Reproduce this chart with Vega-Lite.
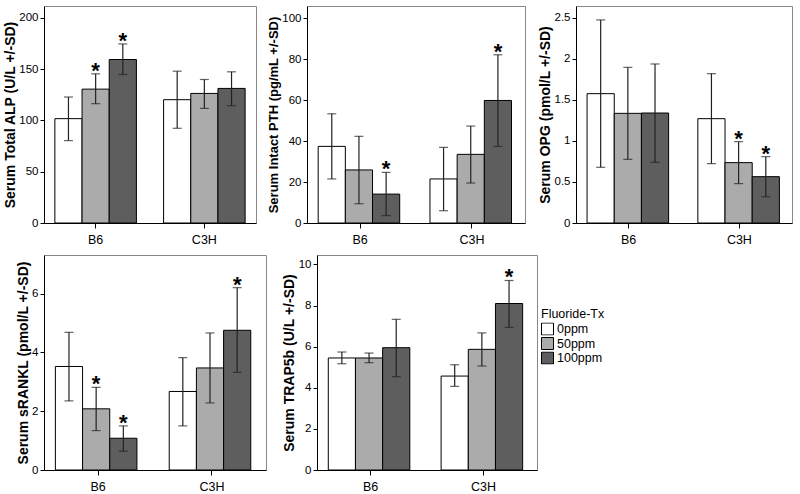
{
  "$schema": "https://vega.github.io/schema/vega-lite/v6.json",
  "padding": {"left": 2, "top": 5, "right": 0, "bottom": 0},
  "config": {
    "font": "Liberation Sans",
    "view": {"stroke": "#888888", "strokeWidth": 1},
    "axis": {"grid": false, "domainColor": "black", "tickColor": "black", "labelColor": "black", "titleColor": "black", "labelFontSize": 11.5, "titleFontSize": 14, "titleFontWeight": "bold", "tickSize": 4, "labelPadding": 2},
    "axisX": {"labelFontSize": 12.5, "labelPadding": 5, "tickSize": 5, "labelAngle": 0, "title": null},
    "axisY": {"titlePadding": 1.5}
  },
  "datasets": {
    "alp": [
      {"strain": "B6", "dose": "0ppm", "mean": 101.8, "lo": 80.4, "hi": 122.9, "sig": false},
      {"strain": "B6", "dose": "50ppm", "mean": 130.6, "lo": 116.4, "hi": 145.5, "sig": true},
      {"strain": "B6", "dose": "100ppm", "mean": 159.5, "lo": 144.9, "hi": 174.7, "sig": true},
      {"strain": "C3H", "dose": "0ppm", "mean": 120.3, "lo": 92.4, "hi": 148.1, "sig": false},
      {"strain": "C3H", "dose": "50ppm", "mean": 126.4, "lo": 111.8, "hi": 140.0, "sig": false},
      {"strain": "C3H", "dose": "100ppm", "mean": 131.3, "lo": 114.4, "hi": 147.5, "sig": false}
    ],
    "pth": [
      {"strain": "B6", "dose": "0ppm", "mean": 37.4, "lo": 21.5, "hi": 53.3, "sig": false},
      {"strain": "B6", "dose": "50ppm", "mean": 25.9, "lo": 9.4, "hi": 42.3, "sig": false},
      {"strain": "B6", "dose": "100ppm", "mean": 14.1, "lo": 3.6, "hi": 24.7, "sig": true},
      {"strain": "C3H", "dose": "0ppm", "mean": 21.5, "lo": 6.0, "hi": 36.9, "sig": false},
      {"strain": "C3H", "dose": "50ppm", "mean": 33.5, "lo": 19.5, "hi": 47.3, "sig": false},
      {"strain": "C3H", "dose": "100ppm", "mean": 59.8, "lo": 37.4, "hi": 82.1, "sig": true}
    ],
    "opg": [
      {"strain": "B6", "dose": "0ppm", "mean": 1.577, "lo": 0.679, "hi": 2.476, "sig": false},
      {"strain": "B6", "dose": "50ppm", "mean": 1.337, "lo": 0.776, "hi": 1.898, "sig": false},
      {"strain": "B6", "dose": "100ppm", "mean": 1.341, "lo": 0.74, "hi": 1.939, "sig": false},
      {"strain": "C3H", "dose": "0ppm", "mean": 1.272, "lo": 0.724, "hi": 1.821, "sig": false},
      {"strain": "C3H", "dose": "50ppm", "mean": 0.736, "lo": 0.48, "hi": 0.992, "sig": true},
      {"strain": "C3H", "dose": "100ppm", "mean": 0.565, "lo": 0.32, "hi": 0.809, "sig": true}
    ],
    "rankl": [
      {"strain": "B6", "dose": "0ppm", "mean": 3.52, "lo": 2.35, "hi": 4.68, "sig": false},
      {"strain": "B6", "dose": "50ppm", "mean": 2.08, "lo": 1.34, "hi": 2.81, "sig": true},
      {"strain": "B6", "dose": "100ppm", "mean": 1.08, "lo": 0.64, "hi": 1.5, "sig": true},
      {"strain": "C3H", "dose": "0ppm", "mean": 2.67, "lo": 1.5, "hi": 3.82, "sig": false},
      {"strain": "C3H", "dose": "50ppm", "mean": 3.47, "lo": 2.28, "hi": 4.66, "sig": false},
      {"strain": "C3H", "dose": "100ppm", "mean": 4.75, "lo": 3.32, "hi": 6.2, "sig": true}
    ],
    "trap": [
      {"strain": "B6", "dose": "0ppm", "mean": 5.45, "lo": 5.17, "hi": 5.74, "sig": false},
      {"strain": "B6", "dose": "50ppm", "mean": 5.45, "lo": 5.22, "hi": 5.69, "sig": false},
      {"strain": "B6", "dose": "100ppm", "mean": 5.95, "lo": 4.54, "hi": 7.33, "sig": false},
      {"strain": "C3H", "dose": "0ppm", "mean": 4.57, "lo": 4.07, "hi": 5.12, "sig": false},
      {"strain": "C3H", "dose": "50ppm", "mean": 5.87, "lo": 5.06, "hi": 6.67, "sig": false},
      {"strain": "C3H", "dose": "100ppm", "mean": 8.1, "lo": 6.94, "hi": 9.22, "sig": true}
    ]
  },
  "spacing": 8,
  "align": "none",
  "vconcat": [
    {
      "bounds": "flush",
      "spacing": 51,
      "hconcat": [
        {
          "width": 212, "height": 217,
          "data": {"name": "alp"},
          "encoding": {
            "x": {"field": "strain", "type": "nominal", "scale": {"paddingInner": 0.25, "paddingOuter": 0.1}},
            "xOffset": {"field": "dose", "type": "nominal", "sort": ["0ppm", "50ppm", "100ppm"], "scale": {"paddingInner": 0}}
          },
          "layer": [
            {"mark": {"type": "bar", "stroke": "black", "strokeWidth": 1},
             "encoding": {
               "y": {"field": "mean", "type": "quantitative", "scale": {"domain": [0, 211.7], "nice": false}, "axis": {"title": "Serum Total ALP (U/L +/-SD)", "values": [0, 50, 100, 150, 200]}},
               "color": {"field": "dose", "type": "nominal", "sort": ["0ppm", "50ppm", "100ppm"], "scale": {"domain": ["0ppm", "50ppm", "100ppm"], "range": ["#ffffff", "#ababab", "#5e5e5e"]},
                 "legend": {"title": "Fluoride-Tx", "orient": "none", "legendX": 497, "legendY": 302, "titleFontWeight": "normal", "titleFontSize": 12.5, "labelFontSize": 12.5, "symbolType": "square", "symbolSize": 144, "symbolStrokeColor": "black", "symbolStrokeWidth": 1, "clipHeight": 13, "rowPadding": 1.5, "titlePadding": 2, "labelOffset": 3}}
             }},
            {"mark": {"type": "rule", "color": "#222222", "strokeWidth": 1.2}, "encoding": {"y": {"field": "lo", "type": "quantitative", "scale": {"domain": [0, 211.7], "nice": false}}, "y2": {"field": "hi"}}},
            {"mark": {"type": "tick", "orient": "horizontal", "size": 9, "thickness": 1.2, "color": "#222222"}, "encoding": {"y": {"field": "hi", "type": "quantitative", "scale": {"domain": [0, 211.7], "nice": false}}}},
            {"mark": {"type": "tick", "orient": "horizontal", "size": 9, "thickness": 1.2, "color": "#222222"}, "encoding": {"y": {"field": "lo", "type": "quantitative", "scale": {"domain": [0, 211.7], "nice": false}}}},
            {"transform": [{"filter": "datum.sig"}], "mark": {"type": "text", "text": "*", "fontSize": 22, "fontWeight": "bold", "baseline": "alphabetic", "dy": 4, "color": "black"}, "encoding": {"y": {"field": "hi", "type": "quantitative", "scale": {"domain": [0, 211.7], "nice": false}}}}
          ]
        },
        {
          "width": 218, "height": 217,
          "data": {"name": "pth"},
          "encoding": {
            "x": {"field": "strain", "type": "nominal", "scale": {"paddingInner": 0.25, "paddingOuter": 0.1}},
            "xOffset": {"field": "dose", "type": "nominal", "sort": ["0ppm", "50ppm", "100ppm"], "scale": {"paddingInner": 0}}
          },
          "layer": [
            {"mark": {"type": "bar", "stroke": "black", "strokeWidth": 1},
             "encoding": {
               "y": {"field": "mean", "type": "quantitative", "scale": {"domain": [0, 105.9], "nice": false}, "axis": {"title": "Serum Intact PTH (pg/mL +/-SD)", "titleFontSize": 13, "values": [0, 20, 40, 60, 80, 100]}},
               "color": {"field": "dose", "type": "nominal", "sort": ["0ppm", "50ppm", "100ppm"], "scale": {"domain": ["0ppm", "50ppm", "100ppm"], "range": ["#ffffff", "#ababab", "#5e5e5e"]}}
             }},
            {"mark": {"type": "rule", "color": "#222222", "strokeWidth": 1.2}, "encoding": {"y": {"field": "lo", "type": "quantitative", "scale": {"domain": [0, 105.9], "nice": false}}, "y2": {"field": "hi"}}},
            {"mark": {"type": "tick", "orient": "horizontal", "size": 9, "thickness": 1.2, "color": "#222222"}, "encoding": {"y": {"field": "hi", "type": "quantitative", "scale": {"domain": [0, 105.9], "nice": false}}}},
            {"mark": {"type": "tick", "orient": "horizontal", "size": 9, "thickness": 1.2, "color": "#222222"}, "encoding": {"y": {"field": "lo", "type": "quantitative", "scale": {"domain": [0, 105.9], "nice": false}}}},
            {"transform": [{"filter": "datum.sig"}], "mark": {"type": "text", "text": "*", "fontSize": 22, "fontWeight": "bold", "baseline": "alphabetic", "dy": 4, "color": "black"}, "encoding": {"y": {"field": "hi", "type": "quantitative", "scale": {"domain": [0, 105.9], "nice": false}}}}
          ]
        },
        {
          "width": 216, "height": 217,
          "data": {"name": "opg"},
          "encoding": {
            "x": {"field": "strain", "type": "nominal", "scale": {"paddingInner": 0.25, "paddingOuter": 0.1}},
            "xOffset": {"field": "dose", "type": "nominal", "sort": ["0ppm", "50ppm", "100ppm"], "scale": {"paddingInner": 0}}
          },
          "layer": [
            {"mark": {"type": "bar", "stroke": "black", "strokeWidth": 1},
             "encoding": {
               "y": {"field": "mean", "type": "quantitative", "scale": {"domain": [0, 2.646], "nice": false}, "axis": {"title": "Serum OPG (pmol/L +/-SD)", "values": [0, 0.5, 1, 1.5, 2, 2.5], "format": "~g"}},
               "color": {"field": "dose", "type": "nominal", "sort": ["0ppm", "50ppm", "100ppm"], "scale": {"domain": ["0ppm", "50ppm", "100ppm"], "range": ["#ffffff", "#ababab", "#5e5e5e"]}}
             }},
            {"mark": {"type": "rule", "color": "#222222", "strokeWidth": 1.2}, "encoding": {"y": {"field": "lo", "type": "quantitative", "scale": {"domain": [0, 2.646], "nice": false}}, "y2": {"field": "hi"}}},
            {"mark": {"type": "tick", "orient": "horizontal", "size": 9, "thickness": 1.2, "color": "#222222"}, "encoding": {"y": {"field": "hi", "type": "quantitative", "scale": {"domain": [0, 2.646], "nice": false}}}},
            {"mark": {"type": "tick", "orient": "horizontal", "size": 9, "thickness": 1.2, "color": "#222222"}, "encoding": {"y": {"field": "lo", "type": "quantitative", "scale": {"domain": [0, 2.646], "nice": false}}}},
            {"transform": [{"filter": "datum.sig"}], "mark": {"type": "text", "text": "*", "fontSize": 22, "fontWeight": "bold", "baseline": "alphabetic", "dy": 4, "color": "black"}, "encoding": {"y": {"field": "hi", "type": "quantitative", "scale": {"domain": [0, 2.646], "nice": false}}}}
          ]
        }
      ]
    },
    {
      "bounds": "flush",
      "spacing": 51,
      "hconcat": [
        {
          "width": 222, "height": 215,
          "data": {"name": "rankl"},
          "encoding": {
            "x": {"field": "strain", "type": "nominal", "scale": {"paddingInner": 0.25, "paddingOuter": 0.1}},
            "xOffset": {"field": "dose", "type": "nominal", "sort": ["0ppm", "50ppm", "100ppm"], "scale": {"paddingInner": 0}}
          },
          "layer": [
            {"mark": {"type": "bar", "stroke": "black", "strokeWidth": 1},
             "encoding": {
               "y": {"field": "mean", "type": "quantitative", "scale": {"domain": [0, 7.31], "nice": false}, "axis": {"title": "Serum sRANKL (pmol/L +/-SD)", "values": [0, 2, 4, 6]}},
               "color": {"field": "dose", "type": "nominal", "sort": ["0ppm", "50ppm", "100ppm"], "scale": {"domain": ["0ppm", "50ppm", "100ppm"], "range": ["#ffffff", "#ababab", "#5e5e5e"]}}
             }},
            {"mark": {"type": "rule", "color": "#222222", "strokeWidth": 1.2}, "encoding": {"y": {"field": "lo", "type": "quantitative", "scale": {"domain": [0, 7.31], "nice": false}}, "y2": {"field": "hi"}}},
            {"mark": {"type": "tick", "orient": "horizontal", "size": 9, "thickness": 1.2, "color": "#222222"}, "encoding": {"y": {"field": "hi", "type": "quantitative", "scale": {"domain": [0, 7.31], "nice": false}}}},
            {"mark": {"type": "tick", "orient": "horizontal", "size": 9, "thickness": 1.2, "color": "#222222"}, "encoding": {"y": {"field": "lo", "type": "quantitative", "scale": {"domain": [0, 7.31], "nice": false}}}},
            {"transform": [{"filter": "datum.sig"}], "mark": {"type": "text", "text": "*", "fontSize": 22, "fontWeight": "bold", "baseline": "alphabetic", "dy": 4, "color": "black"}, "encoding": {"y": {"field": "hi", "type": "quantitative", "scale": {"domain": [0, 7.31], "nice": false}}}}
          ]
        },
        {
          "width": 220, "height": 215,
          "data": {"name": "trap"},
          "encoding": {
            "x": {"field": "strain", "type": "nominal", "scale": {"paddingInner": 0.25, "paddingOuter": 0.1}},
            "xOffset": {"field": "dose", "type": "nominal", "sort": ["0ppm", "50ppm", "100ppm"], "scale": {"paddingInner": 0}}
          },
          "layer": [
            {"mark": {"type": "bar", "stroke": "black", "strokeWidth": 1},
             "encoding": {
               "y": {"field": "mean", "type": "quantitative", "scale": {"domain": [0, 10.46], "nice": false}, "axis": {"title": "Serum TRAP5b (U/L +/-SD)", "values": [0, 2, 4, 6, 8, 10]}},
               "color": {"field": "dose", "type": "nominal", "sort": ["0ppm", "50ppm", "100ppm"], "scale": {"domain": ["0ppm", "50ppm", "100ppm"], "range": ["#ffffff", "#ababab", "#5e5e5e"]}}
             }},
            {"mark": {"type": "rule", "color": "#222222", "strokeWidth": 1.2}, "encoding": {"y": {"field": "lo", "type": "quantitative", "scale": {"domain": [0, 10.46], "nice": false}}, "y2": {"field": "hi"}}},
            {"mark": {"type": "tick", "orient": "horizontal", "size": 9, "thickness": 1.2, "color": "#222222"}, "encoding": {"y": {"field": "hi", "type": "quantitative", "scale": {"domain": [0, 10.46], "nice": false}}}},
            {"mark": {"type": "tick", "orient": "horizontal", "size": 9, "thickness": 1.2, "color": "#222222"}, "encoding": {"y": {"field": "lo", "type": "quantitative", "scale": {"domain": [0, 10.46], "nice": false}}}},
            {"transform": [{"filter": "datum.sig"}], "mark": {"type": "text", "text": "*", "fontSize": 22, "fontWeight": "bold", "baseline": "alphabetic", "dy": 4, "color": "black"}, "encoding": {"y": {"field": "hi", "type": "quantitative", "scale": {"domain": [0, 10.46], "nice": false}}}}
          ]
        }
      ]
    }
  ]
}
